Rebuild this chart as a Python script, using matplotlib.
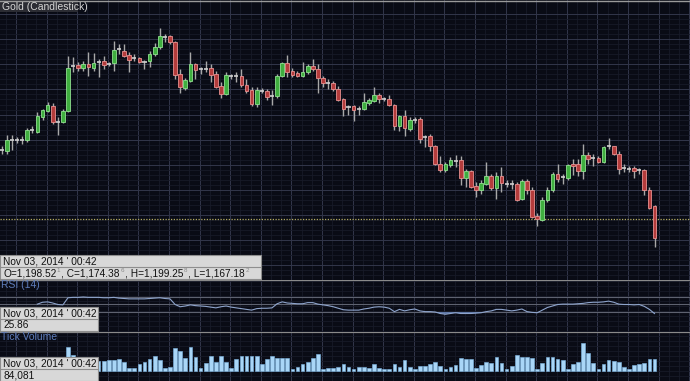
import matplotlib.pyplot as plt
from matplotlib.patches import Rectangle
import numpy as np


#%%  Data
title = 'Gold (Candlestick)'
stamp = "Nov 03, 2014 ' 00:42"
ohlc_parts = [('O=1,198.52', '1'), (', C=1,174.38', '6'),
              (', H=1,199.25', '8'), (', L=1,167.18', '2')]
rsi_label = 'RSI (14)'
rsi_last = '25.86'
vol_label = 'Tick Volume'
vol_last = '84,081'
last_price = 1174.38

opens = [1191.75, 1191.50, 1194.50, 1194.50, 1194.50, 1194.50, 1197.00, 1196.50, 1200.25, 1201.75,
         1203.00, 1199.00, 1199.00, 1201.75, 1213.25, 1213.50, 1212.75, 1213.75, 1212.75, 1214.25,
         1214.50, 1213.75, 1214.00, 1217.50, 1217.00, 1216.00, 1215.25, 1215.25, 1214.25, 1214.50,
         1216.25, 1218.00, 1220.50, 1220.75, 1219.25, 1211.25, 1207.50, 1209.50, 1213.75, 1212.50,
         1212.50, 1212.75, 1211.25, 1208.25, 1206.00, 1210.75, 1210.75, 1210.75, 1208.50, 1207.00,
         1203.50, 1206.75, 1206.75, 1205.50, 1205.50, 1210.75, 1214.00, 1212.00, 1211.25, 1210.75,
         1211.75, 1213.00, 1212.50, 1210.25, 1209.00, 1209.00, 1207.25, 1204.75, 1202.75, 1203.00,
         1202.25, 1202.25, 1203.75, 1204.25, 1205.75, 1204.75, 1204.75, 1203.25, 1198.00, 1200.50,
         1197.25, 1199.50, 1199.75, 1195.25, 1195.50, 1193.00, 1188.25, 1186.75, 1188.00, 1189.00,
         1189.25, 1184.75, 1186.50, 1182.75, 1181.75, 1183.25, 1185.25, 1182.25, 1185.25, 1183.25,
         1183.25, 1183.25, 1179.50, 1184.00, 1181.75, 1175.00, 1174.00, 1179.25, 1181.75, 1185.75,
         1185.00, 1184.75, 1188.25, 1188.25, 1186.50, 1190.50, 1189.75, 1189.75, 1188.75, 1192.75,
         1192.75, 1190.75, 1187.25, 1187.00, 1187.25, 1186.75, 1186.75, 1181.75, 1177.50]
highs = [1193.00, 1195.75, 1195.75, 1195.25, 1195.50, 1197.50, 1198.00, 1201.50, 1202.25, 1204.00,
         1203.75, 1200.25, 1202.25, 1215.75, 1215.50, 1214.25, 1214.50, 1216.75, 1216.50, 1215.00,
         1215.75, 1214.25, 1219.50, 1218.75, 1218.75, 1216.75, 1216.25, 1215.50, 1214.75, 1217.00,
         1219.00, 1223.00, 1221.25, 1221.00, 1219.50, 1212.50, 1210.25, 1216.75, 1214.00, 1213.00,
         1214.50, 1213.75, 1212.00, 1209.25, 1211.75, 1211.25, 1211.75, 1212.50, 1210.00, 1207.75,
         1208.00, 1207.50, 1207.25, 1207.00, 1211.25, 1214.25, 1216.00, 1212.75, 1212.00, 1214.25,
         1213.75, 1215.00, 1213.75, 1210.75, 1210.00, 1209.50, 1208.25, 1205.00, 1203.25, 1203.25,
         1203.00, 1206.25, 1205.00, 1208.00, 1206.25, 1205.25, 1205.75, 1203.50, 1200.75, 1202.00,
         1200.25, 1200.25, 1200.25, 1195.75, 1196.00, 1193.25, 1190.25, 1188.75, 1190.00, 1190.50,
         1190.25, 1187.00, 1186.75, 1183.75, 1184.25, 1188.75, 1185.75, 1186.25, 1187.50, 1184.25,
         1184.25, 1183.75, 1184.50, 1184.50, 1182.50, 1175.75, 1180.00, 1182.50, 1186.25, 1188.25,
         1185.75, 1188.25, 1189.50, 1189.50, 1193.50, 1191.25, 1190.75, 1190.25, 1193.00, 1195.00,
         1193.00, 1191.50, 1188.25, 1187.75, 1187.75, 1187.25, 1187.00, 1182.50, 1177.75]
lows = [1190.75, 1190.75, 1191.75, 1193.75, 1193.50, 1194.00, 1196.25, 1196.25, 1199.50, 1201.50,
        1198.50, 1195.75, 1198.75, 1201.50, 1211.75, 1212.00, 1212.00, 1210.75, 1212.00, 1210.50,
        1212.50, 1213.25, 1212.00, 1216.25, 1215.50, 1211.75, 1214.50, 1214.00, 1212.50, 1213.00,
        1215.75, 1217.50, 1219.25, 1218.75, 1210.00, 1206.25, 1207.00, 1209.25, 1210.00, 1211.25,
        1211.75, 1209.25, 1207.50, 1205.00, 1205.75, 1210.00, 1209.25, 1208.00, 1206.25, 1203.00,
        1202.75, 1206.25, 1204.50, 1203.25, 1205.00, 1210.50, 1210.50, 1210.50, 1210.50, 1210.50,
        1211.25, 1212.00, 1206.25, 1208.00, 1207.25, 1206.75, 1204.25, 1200.50, 1200.75, 1199.25,
        1200.75, 1202.00, 1203.25, 1204.00, 1203.75, 1204.25, 1203.00, 1197.00, 1196.75, 1195.50,
        1196.75, 1198.75, 1193.75, 1192.50, 1191.50, 1188.00, 1186.25, 1186.25, 1187.50, 1187.50,
        1183.00, 1182.50, 1182.25, 1180.00, 1180.75, 1183.00, 1181.75, 1179.50, 1181.25, 1182.50,
        1182.00, 1179.00, 1179.25, 1180.75, 1174.50, 1172.50, 1173.75, 1178.75, 1181.25, 1183.75,
        1183.25, 1184.25, 1185.50, 1185.25, 1184.50, 1188.25, 1187.75, 1188.50, 1188.50, 1192.00,
        1190.50, 1185.75, 1186.25, 1186.25, 1184.75, 1185.75, 1180.50, 1176.75, 1167.25]
closes = [1191.75, 1194.50, 1194.50, 1194.50, 1194.50, 1197.00, 1197.00, 1200.50, 1202.00, 1203.25,
          1199.00, 1199.00, 1201.75, 1212.75, 1213.25, 1212.75, 1213.75, 1213.00, 1214.00, 1214.25,
          1213.50, 1213.75, 1217.25, 1217.50, 1215.75, 1214.75, 1215.25, 1214.25, 1214.25, 1216.25,
          1218.00, 1220.75, 1220.50, 1219.25, 1211.00, 1207.75, 1209.75, 1213.75, 1212.25, 1212.50,
          1212.50, 1211.00, 1208.00, 1206.00, 1211.00, 1210.75, 1210.75, 1208.50, 1206.75, 1203.50,
          1207.00, 1206.75, 1205.25, 1205.50, 1210.75, 1214.00, 1211.75, 1211.00, 1210.75, 1211.75,
          1213.25, 1212.50, 1210.25, 1209.00, 1209.00, 1207.25, 1204.50, 1202.25, 1202.75, 1202.00,
          1202.25, 1204.00, 1204.50, 1205.75, 1204.75, 1204.75, 1203.25, 1198.00, 1200.50, 1197.50,
          1199.50, 1199.50, 1194.75, 1195.25, 1192.75, 1188.25, 1186.75, 1188.25, 1189.25, 1189.00,
          1184.75, 1186.50, 1182.50, 1181.75, 1183.50, 1185.25, 1182.25, 1185.25, 1183.50, 1183.25,
          1183.25, 1179.25, 1184.00, 1181.75, 1174.75, 1174.25, 1179.25, 1181.75, 1185.75, 1184.50,
          1185.00, 1188.00, 1187.75, 1186.50, 1190.50, 1189.50, 1189.75, 1188.75, 1192.50, 1192.75,
          1190.75, 1187.00, 1187.25, 1187.00, 1186.50, 1186.75, 1181.75, 1177.00, 1169.50]

rsi_start = 7
rsi = [51, 56, 57, 54, 50, 49, 68, 69, 69, 70,
       69, 69, 69, 68, 68, 69, 67, 66, 65, 65,
       65, 65, 66, 67, 68, 66, 65, 50, 44, 46,
       49, 47, 46, 45, 43, 41, 44, 46, 43, 41,
       39, 37, 35, 39, 40, 40, 41, 52, 57, 54,
       53, 52, 52, 55, 55, 51, 49, 47, 44, 40,
       36, 35, 35, 35, 38, 40, 43, 44, 43, 40,
       31, 37, 33, 36, 38, 33, 31, 31, 30, 26,
       24, 26, 28, 26, 26, 26, 27, 28, 31, 33,
       37, 37, 35, 33, 35, 38, 31, 29, 28, 35,
       42, 46, 50, 51, 51, 51, 52, 53, 55, 56,
       56, 57, 59, 56, 51, 50, 50, 49, 50, 45,
       37, 25.86]

volumes = [42100, 63200, 48800, 27600, 35100, 62700, 34800, 77400, 56100, 55300,
           84200, 70300, 69800, 168400, 112300, 56200, 48700, 77100, 63400, 70200,
           69500, 77800, 76900, 84600, 63100, 21200, 20800, 49300, 62800, 84100,
           105200, 77300, 21400, 27900, 161200, 140300, 91100, 168800, 98200, 21100,
           56300, 105400, 63200, 104800, 62900, 20900, 84300, 105100, 104700, 105300,
           104900, 49200, 84400, 105200, 91300, 91100, 90800, 13900, 28100, 49100,
           63300, 91200, 119300, 14100, 20800, 21200, 28300, 49100, 27900, 14200,
           28100, 27800, 21300, 48900, 21100, 14000, 13800, 49200, 28200, 77100,
           27900, 14100, 35200, 34900, 49300, 63100, 35100, 13900, 28200, 42100,
           91300, 84100, 84400, 21100, 42300, 63100, 56200, 98100, 55900, 14200,
           35100, 112200, 98300, 97900, 91100, 14100, 56300, 98200, 97800, 84300,
           77200, 14000, 49100, 63200, 196300, 126100, 56100, 13900, 49200, 77300,
           70100, 63200, 28100, 14100, 42200, 49300, 56100, 84200, 84081]


#%%  Layout (pixels of the 690x381 picture)
W, H = 690, 381
bg = '#090b15'
plt.rcParams['font.family'] = ['Liberation Sans', 'DejaVu Sans']
fig = plt.figure(figsize=(W/100, H/100), dpi=100)
fig.patch.set_facecolor(bg)

n = len(opens)
idx = np.arange(n)
xlim = (-1.7/5.1, (W - 1.7)/5.1)

def panel(top, bottom):
    ax = fig.add_axes([0, 1 - bottom/H, 1, (bottom - top)/H])
    ax.set_facecolor(bg)
    ax.set_xlim(xlim)
    for s in ax.spines.values():
        s.set_visible(False)
    ax.tick_params(which='both', length=0, labelbottom=False, labelleft=False)
    ax.set_xticks(np.arange(2.8, n + 6, 6))
    ax.set_xticks(np.arange(0.8, n + 6, 2), minor=True)
    ax.grid(which='major', color='#32364a', lw=0.7)
    ax.grid(which='minor', color='#171a28', lw=0.6)
    ax.set_axisbelow(True)
    return ax

ax_p = panel(0, 280)
ax_r = panel(280, 332)
ax_v = panel(332, 381)

# price panel
ax_p.set_ylim(1160, 1230)
ax_p.set_yticks(np.arange(1226.375, 1158, -6.375))
ax_p.set_yticks(np.arange(1226.375, 1158, -1.275), minor=True)

o = np.array(opens); c = np.array(closes)
hi = np.array(highs); lo = np.array(lows)
up = c > o
dn = c < o
flat = c == o

ax_p.vlines(idx, lo, hi, color='#a8a8a8', lw=1.0, zorder=2)
ax_p.bar(idx[up], np.maximum(c[up] - o[up], 0.6), bottom=o[up], width=0.72,
         color='#3fae3f', edgecolor='#8fe08f', lw=0.6, zorder=3)
ax_p.bar(idx[dn], np.maximum(o[dn] - c[dn], 0.6), bottom=c[dn], width=0.72,
         color='#b43c3c', edgecolor='#e89090', lw=0.6, zorder=3)
ax_p.hlines(o[flat], idx[flat] - 0.4, idx[flat] + 0.4, color='#d0d0d0', lw=1.2, zorder=3)

ax_p.axhline(last_price, color='#b4ac62', ls=(0, (1, 1.2)), lw=0.9, zorder=2)

# RSI panel
ax_r.set_ylim(-23.3, 115.3)
ax_r.set_yticks([])
ax_r.set_yticks(np.arange(-20, 115, 13.3), minor=True)
for lvl in (70, 50, 30):
    ax_r.axhline(lvl, color='#5e6270', lw=0.8, zorder=1)
rx = idx[rsi_start:]
rv = np.array(rsi, dtype=float)
ax_r.fill_between(rx, rv, 30, where=rv < 30, interpolate=True, color='#5f7db5', alpha=0.8, lw=0)
ax_r.plot(rx, rv, color='#8ea4cc', lw=0.8, zorder=3)
ax_r.axhline(115.3, color='#8a8a8a', lw=1.6)

# volume panel
ax_v.set_ylim(-70000, 273000)
ax_v.set_yticks([])
ax_v.set_yticks(np.arange(-35000, 273000, 35000), minor=True)
ax_v.bar(idx, volumes, width=0.72, color='#a9d6f7', edgecolor='#7fb8e6', lw=0.4, zorder=3)
ax_v.axhline(273000, color='#8a8a8a', lw=1.6)


#%%  Overlay: labels and info boxes
ov = fig.add_axes([0, 0, 1, 1])
ov.set_xlim(0, W)
ov.set_ylim(H, 0)
ov.axis('off')
ov.patch.set_alpha(0)
ov.axhline(0.5, color='#9a9a9a', lw=1)

ov.add_patch(Rectangle((0, 0), 78, 12, fc='#2b2c33', ec='none'))
ov.text(1.5, 6.5, title, color='#d6d6d6', fontsize=7.5, va='center', ha='left')
ov.text(1, 285.5, rsi_label, color='#5d7cba', fontsize=7.5, va='center', ha='left')
ov.text(1, 337, vol_label, color='#5d7cba', fontsize=7.5, va='center', ha='left')

def info_box(y0, w, line2):
    ov.add_patch(Rectangle((0, y0), w, 24, fc='#d8d8d8', ec='#8e8e8e', lw=0.8, zorder=5))
    ov.plot([0, w], [y0 + 12, y0 + 12], color='#8e8e8e', lw=0.8, zorder=6)
    ov.text(3, y0 + 6.3, stamp, color='#111111', fontsize=7.3, va='center', zorder=7)
    if isinstance(line2, str):
        ov.text(3, y0 + 18.3, line2, color='#111111', fontsize=7.3, va='center', zorder=7)
        return
    # main numbers with small grey trailing digits
    r = fig.canvas.get_renderer()
    x = 3
    for main, sup in line2:
        t = ov.text(x, y0 + 18.3, main, color='#111111', fontsize=7.3, va='center', zorder=7)
        x += t.get_window_extent(renderer=r).width
        s = ov.text(x + 0.5, y0 + 15.5, sup, color='#8a8a8a', fontsize=4.5, va='center', zorder=7)
        x += s.get_window_extent(renderer=r).width + 1.5

info_box(255, 261, ohlc_parts)
info_box(307, 98, rsi_last)
info_box(357, 98, vol_last)

plt.savefig('out.png', dpi=100, facecolor=fig.get_facecolor())
